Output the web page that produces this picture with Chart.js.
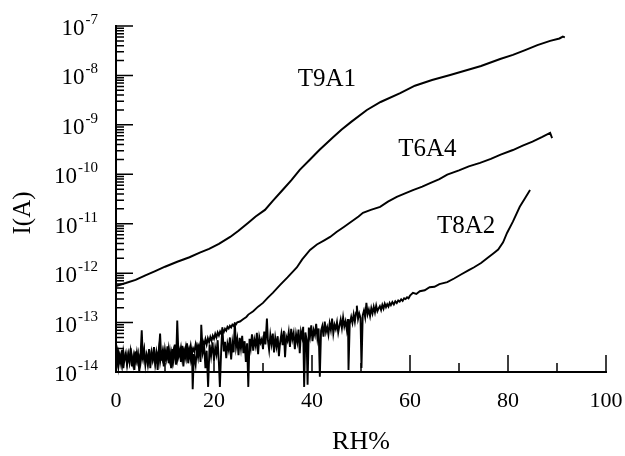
<!DOCTYPE html>
<html><head><meta charset="utf-8">
<script src="https://cdn.jsdelivr.net/npm/chart.js@4.4.1/dist/chart.umd.min.js"></script>
<style>html,body{margin:0;padding:0;background:#fff;}canvas{display:block;}</style>
</head><body>
<canvas id="c" width="625" height="456"></canvas>
<script>
// ---- tick labels ----
const xTickLabels = ['0', '20', '40', '60', '80', '100'];
const yDecades = [-14, -13, -12, -11, -10, -9, -8, -7];
const yMinorMantissas = [2, 3, 4, 5, 6, 7, 8, 9];
const xTitle = 'RH%';
const yTitle = 'I(A)';

// ---- series (x = RH %, y = current in A) ----
const seriesNames = ['T9A1', 'T6A4', 'T8A2'];

const t9a1 = [
  [0,5.5e-13],[2,6.3e-13],[4,7.3e-13],[6,9.0e-13],[8,1.1e-12],[10,1.35e-12],[12.5,1.7e-12],
  [15,2.1e-12],[17.1,2.6e-12],[19,3.1e-12],[21,3.9e-12],[23.3,5.4e-12],[25,7.2e-12],[27,1.05e-11],
  [28.5,1.4e-11],[30.4,1.9e-11],[32,2.9e-11],[34,4.8e-11],[35.8,7.6e-11],[37.5,1.23e-10],
  [39.5,1.95e-10],[41.5,3.1e-10],[44.3,5.6e-10],[46,8.0e-10],[48,1.15e-9],[51.2,2.0e-9],
  [54,2.9e-9],[58,4.4e-9],[61,6.2e-9],[64.5,8.1e-9],[68.2,1.02e-8],[71,1.23e-8],[74.5,1.55e-8],
  [78.4,2.15e-8],[81,2.6e-8],[83.5,3.25e-8],[86,4.1e-8],[88.6,5.0e-8],[90.5,5.6e-8],[91.2,6.1e-8],[91.6,5.9e-8]
];

const t6a4 = [
  [0,2.0e-14],[0.25,1.5e-14],[0.5,2.4e-14],[0.75,1.7e-14],[1,2.2e-14],[1.25,1.4e-14],[1.5,2.6e-14],[1.75,1.8e-14],
  [2,2.1e-14],[2.25,1.5e-14],[2.5,2.3e-14],[2.75,1.6e-14],[3,2.7e-14],[3.25,1.9e-14],[3.5,1.4e-14],[3.75,2.2e-14],
  [4,1.7e-14],[4.25,2.5e-14],[4.5,1.6e-14],[4.75,2.0e-14],[5,1.5e-14],[5.25,2.4e-14],[5.5,1.8e-14],[5.75,2.8e-14],
  [6,1.6e-14],[6.25,2.1e-14],[6.5,1.4e-14],[6.75,2.3e-14],[7,1.9e-14],[7.25,2.6e-14],[7.5,1.7e-14],[7.75,2.2e-14],
  [8,1.5e-14],[8.25,2.5e-14],[8.5,1.9e-14],[8.75,2.9e-14],[9,1.6e-14],[9.25,2.3e-14],[9.5,1.8e-14],[9.75,2.6e-14],
  [10,1.7e-14],[10.25,2.4e-14],[10.5,2.0e-14],[10.75,3.0e-14],[11,1.8e-14],[11.25,2.5e-14],[11.5,1.6e-14],[11.75,2.7e-14],
  [12,2.1e-14],[12.25,2.9e-14],[12.5,1.8e-14],[12.75,2.6e-14],[13,2.2e-14],[13.25,3.1e-14],[13.5,1.9e-14],[13.75,2.8e-14],
  [14,2.3e-14],[14.25,3.2e-14],[14.5,2.0e-14],[14.75,2.9e-14],[15,2.4e-14],[15.25,3.4e-14],[15.5,2.3e-14],[15.75,3.0e-14],
  [16,2.6e-14],[16.25,3.6e-14],[16.5,2.7e-14],[16.75,3.5e-14],[17,3.0e-14],[17.25,4.0e-14],[17.5,3.1e-14],[17.75,4.2e-14],
  [18,3.5e-14],[18.25,4.6e-14],[18.5,3.6e-14],[18.75,4.8e-14],[19,4.0e-14],[19.25,5.1e-14],[19.5,4.3e-14],[19.75,5.4e-14],
  [20,4.7e-14],[20.25,5.9e-14],[20.5,5.0e-14],[20.75,6.3e-14],[21,5.5e-14],[21.25,6.6e-14],[21.5,5.9e-14],[21.75,7.2e-14],
  [22,6.4e-14],[22.25,7.5e-14],[22.5,6.9e-14],[22.75,8.2e-14],[23,7.6e-14],[23.25,8.6e-14],[23.5,8.0e-14],[23.75,9.1e-14],
  [24,8.6e-14],[24.25,9.6e-14],[24.5,9.2e-14],[24.75,1.01e-13],[25.3,1.05e-13],[26,1.18e-13],[26.6,1.3e-13],[27,1.45e-13],
  [28,1.7e-13],[29,2.1e-13],[30,2.5e-13],[31,3.2e-13],[32,4.0e-13],[33.5,5.8e-13],[35,8.2e-13],[36.9,1.3e-12],
  [38,1.9e-12],[39.6,2.95e-12],[41,3.8e-12],[42.5,4.6e-12],[43.7,5.4e-12],[45,6.8e-12],[46.5,8.6e-12],[48,1.1e-11],
  [49.5,1.4e-11],[50.4,1.66e-11],[52,1.9e-11],[53.9,2.2e-11],[55.5,2.8e-11],[57.3,3.5e-11],[59,4.1e-11],[60.6,4.8e-11],
  [62.5,5.6e-11],[64.1,6.6e-11],[66,8.0e-11],[67.6,9.8e-11],[70,1.2e-10],[72,1.45e-10],[74.3,1.7e-10],[76.5,2.05e-10],
  [78.5,2.5e-10],[81,3.1e-10],[83,3.8e-10],[85,4.6e-10],[87,5.7e-10],[88.6,6.9e-10],[89.0,5.4e-10]
];

const t8a2 = [
  [0,1.7e-14],[0.25,2.5e-14],[0.5,1.3e-14],[0.75,2.1e-14],[1,1.5e-14],[1.25,2.8e-14],[1.5,1.2e-14],[1.75,1.9e-14],
  [2,2.4e-14],[2.25,1.4e-14],[2.5,2.2e-14],[2.75,1.6e-14],[3,3.0e-14],[3.25,1.3e-14],[3.5,2.0e-14],[3.75,1.1e-14],
  [4,2.6e-14],[4.25,1.7e-14],[4.5,2.3e-14],[4.75,1.0e-14],[5,2.1e-14],[5.25,7.0e-14],[5.5,1.8e-14],[5.75,2.7e-14],
  [6,1.4e-14],[6.25,2.2e-14],[6.5,1.6e-14],[6.75,2.9e-14],[7,1.2e-14],[7.25,2.4e-14],[7.5,1.9e-14],[7.75,3.2e-14],
  [8,1.5e-14],[8.25,2.3e-14],[8.5,1.1e-14],[8.75,2.6e-14],[9,6.0e-14],[9.25,1.7e-14],[9.5,2.5e-14],[9.75,1.3e-14],
  [10,2.8e-14],[10.25,1.9e-14],[10.5,3.3e-14],[10.75,1.5e-14],[11,2.4e-14],[11.25,1.2e-14],[11.5,2.9e-14],[11.75,1.8e-14],
  [12,3.6e-14],[12.25,1.4e-14],[12.5,1.1e-13],[12.75,2.1e-14],[13,2.7e-14],[13.25,1.6e-14],[13.5,3.4e-14],[13.75,1.3e-14],
  [14,2.5e-14],[14.25,1.9e-14],[14.5,3.8e-14],[14.75,1.5e-14],[15,2.6e-14],[15.25,1.8e-14],[15.5,3.1e-14],[15.65,4.5e-15],
  [15.9,2.3e-14],[16.25,1.4e-14],[16.5,2.9e-14],[16.75,2.0e-14],[17,3.5e-14],[17.25,1.6e-14],[17.4,9.0e-14],[17.7,2.4e-14],
  [18,3.2e-14],[18.25,1.2e-14],[18.5,2.7e-14],[18.8,5.0e-15],[19.1,3.6e-14],[19.4,2.1e-14],[19.7,4.0e-14],[20,1.7e-14],
  [20.25,3.1e-14],[20.5,2.3e-14],[20.75,4.4e-14],[21,1.5e-14],[21.2,5.0e-15],[21.5,3.4e-14],[21.7,8.0e-14],[22,2.6e-14],
  [22.25,4.1e-14],[22.5,1.9e-14],[22.75,3.7e-14],[23,2.8e-14],[23.25,5.0e-14],[23.5,1.8e-14],[23.75,3.9e-14],[24,2.5e-14],
  [24.25,1.0e-13],[24.5,3.2e-14],[24.75,4.6e-14],[25,2.2e-14],[25.25,4.9e-14],[25.5,3.0e-14],[25.75,5.4e-14],[26,2.4e-14],
  [26.25,4.2e-14],[26.5,1.6e-14],[26.75,3.8e-14],[27,5.0e-15],[27.25,4.7e-14],[27.5,3.1e-14],[27.75,5.8e-14],[28,2.7e-14],
  [28.25,4.5e-14],[28.5,3.4e-14],[28.75,6.2e-14],[29,2.3e-14],[29.25,5.1e-14],[29.5,3.9e-14],[29.75,4.6e-14],[30,2.9e-14],
  [30.25,6.6e-14],[30.5,3.6e-14],[30.8,1.2e-13],[31,4.4e-14],[31.25,2.8e-14],[31.5,5.6e-14],[31.75,3.7e-14],[32,6.0e-14],
  [32.25,2.5e-14],[32.5,4.9e-14],[32.75,3.3e-14],[33,5.3e-14],[33.25,2.1e-14],[33.5,4.0e-14],[33.75,5.9e-14],[34,3.5e-14],
  [34.25,6.8e-14],[34.5,2.0e-14],[34.75,5.2e-14],[35,4.3e-14],[35.25,6.4e-14],[35.5,3.2e-14],[35.75,7.5e-14],[36,4.6e-14],
  [36.25,6.1e-14],[36.5,2.9e-14],[36.75,5.8e-14],[37,4.1e-14],[37.25,7.2e-14],[37.5,2.4e-14],[37.75,6.5e-14],[38,5.0e-14],
  [38.2,8.2e-14],[38.4,5.0e-15],[38.65,6.3e-14],[38.9,4.5e-14],[39.1,5.5e-15],[39.35,7.9e-14],[39.6,5.3e-14],[39.85,8.8e-14],
  [40.1,4.2e-14],[40.35,7.0e-14],[40.6,5.6e-14],[40.85,9.4e-14],[41.1,4.9e-14],[41.35,7.6e-14],[41.6,8.0e-15],[41.85,6.9e-14],
  [42.1,8.5e-14],[42.35,5.2e-14],[42.6,1.05e-13],[42.85,6.4e-14],[43.1,8.0e-14],[43.35,5.7e-14],[43.6,9.6e-14],[43.85,7.1e-14],
  [44.1,1.2e-13],[44.35,6.0e-14],[44.6,9.0e-14],[44.85,7.4e-14],[45.1,1.02e-13],[45.35,6.3e-14],[45.6,8.7e-14],[45.85,1.15e-13],
  [46.1,7.8e-14],[46.35,1.28e-13],[46.6,8.4e-14],[46.85,1.06e-13],[47.1,7.2e-14],[47.35,1.18e-13],[47.45,1.1e-14],[47.7,9.3e-14],
  [48,1.3e-13],[48.25,9.9e-14],[48.5,1.46e-13],[48.75,1.04e-13],[49,1.6e-13],[49.15,2.2e-13],[49.4,1.18e-13],[49.65,1.52e-13],
  [49.9,1.25e-13],[50.1,1.2e-14],[50.35,1.4e-13],[50.6,1.75e-13],[50.85,1.29e-13],[51.1,2.5e-13],[51.35,1.48e-13],[51.6,1.82e-13],
  [51.85,1.36e-13],[52.1,1.95e-13],[52.35,1.53e-13],[52.6,2.08e-13],[52.85,1.61e-13],[53.1,2.2e-13],[53.35,1.7e-13],[53.6,1.94e-13],
  [53.85,2.15e-13],[54.1,1.8e-13],[54.35,2.28e-13],[54.6,1.92e-13],[54.85,2.4e-13],[55.1,2.05e-13],[55.35,2.35e-13],[55.6,2.1e-13],
  [55.85,2.5e-13],[56.1,2.25e-13],[56.4,2.6e-13],[56.7,2.32e-13],[57,2.7e-13],[57.3,2.48e-13],[57.6,2.8e-13],[57.9,2.65e-13],
  [58.2,2.95e-13],[58.5,2.75e-13],[58.8,3.1e-13],[59.1,2.98e-13],[59.4,3.25e-13],[59.7,3.1e-13],[60,3.5e-13],[60.6,4.0e-13],
  [61.3,3.8e-13],[62,4.3e-13],[63,4.5e-13],[64,5.2e-13],[65,5.3e-13],[66,6.0e-13],[67.6,6.6e-13],[69,7.8e-13],
  [70.5,9.5e-13],[72,1.15e-12],[73,1.3e-12],[74.5,1.6e-12],[76,2.1e-12],[77,2.5e-12],[78,3.0e-12],[79,4.2e-12],
  [79.8,6.5e-12],[81,1.1e-11],[82.4,2.2e-11],[83.5,3.3e-11],[84.5,4.8e-11]
];

// curve name annotations, anchored in data coordinates [x, y]
const labelAnchors = [[37.1, 6.1e-9], [57.6, 2.3e-10], [65.5, 6.4e-12]];

const FONT = '"Liberation Serif", "Times New Roman", Times, serif';
const toXY = arr => arr.map(p => ({x: p[0], y: p[1]}));

const axesPlugin = {
  id: 'axesPlugin',
  afterDraw(chart) {
    const ctx = chart.ctx;
    const xs = chart.scales.x, ys = chart.scales.y;
    const {left, right, top, bottom} = chart.chartArea;
    ctx.save();
    ctx.strokeStyle = '#000';
    ctx.fillStyle = '#000';
    ctx.lineWidth = 2;
    ctx.beginPath();
    ctx.moveTo(left, top - 1);
    ctx.lineTo(left, bottom);
    ctx.lineTo(right + 1, bottom);
    ctx.stroke();
    ctx.lineWidth = 1.5;
    ctx.beginPath();
    yDecades.forEach((d, i) => {
      const py = ys.getPixelForValue(Math.pow(10, d));
      ctx.moveTo(left, py); ctx.lineTo(left + 17, py);
      if (i < yDecades.length - 1) {
        yMinorMantissas.forEach(m => {
          const pm = ys.getPixelForValue(m * Math.pow(10, d));
          ctx.moveTo(left, pm); ctx.lineTo(left + 8, pm);
        });
      }
    });
    xs.ticks.forEach(t => {
      const px = xs.getPixelForValue(t.value);
      const major = xTickLabels.includes(String(t.value));
      ctx.moveTo(px, bottom); ctx.lineTo(px, bottom - (major ? 17 : 9));
    });
    ctx.stroke();
    const rightEdge = left - 18;
    yDecades.forEach(d => {
      const py = ys.getPixelForValue(Math.pow(10, d));
      const exp = String(d);
      ctx.font = '15px ' + FONT;
      ctx.textAlign = 'right';
      ctx.textBaseline = 'alphabetic';
      const ew = ctx.measureText(exp).width;
      ctx.fillText(exp, rightEdge, py - 2);
      ctx.font = '23px ' + FONT;
      ctx.fillText('10', rightEdge - ew - 1, py + 9);
    });
    ctx.save();
    ctx.translate(23, 213);
    ctx.rotate(-Math.PI / 2);
    ctx.font = '25px ' + FONT;
    ctx.textAlign = 'center';
    ctx.textBaseline = 'middle';
    ctx.fillText(yTitle, 0, 0);
    ctx.restore();
    ctx.font = '25px ' + FONT;
    ctx.textAlign = 'left';
    ctx.textBaseline = 'alphabetic';
    seriesNames.forEach((n, i) => {
      const a = labelAnchors[i];
      ctx.fillText(n, xs.getPixelForValue(a[0]), ys.getPixelForValue(a[1]));
    });
    ctx.restore();
  }
};

const ds = (name, arr, w) => ({
  label: name, data: toXY(arr), borderColor: '#000', backgroundColor: '#000',
  borderWidth: w, pointRadius: 0, tension: 0, clip: false, fill: false
});

new Chart(document.getElementById('c'), {
  type: 'line',
  data: {
    datasets: [
      ds(seriesNames[0], t9a1, 2),
      ds(seriesNames[1], t6a4, 1.9),
      ds(seriesNames[2], t8a2, 1.9)
    ]
  },
  options: {
    responsive: false,
    animation: false,
    devicePixelRatio: 1,
    layout: {padding: {left: 0, right: 19, top: 26, bottom: 0}},
    plugins: {legend: {display: false}, tooltip: {enabled: false}},
    scales: {
      x: {
        type: 'linear', min: 0, max: 100,
        grid: {display: false, drawTicks: false},
        border: {display: false},
        ticks: {
          stepSize: 10, autoSkip: false, maxRotation: 0, padding: 16, color: '#000',
          font: {family: FONT, size: 22},
          callback: v => xTickLabels.includes(String(v)) ? String(v) : ''
        },
        title: {display: true, text: xTitle, color: '#000', font: {family: FONT, size: 26, lineHeight: 1.1}, padding: {top: 0, bottom: 0}},
        afterFit: s => { s.height = 84; s.paddingLeft = 0; s.paddingRight = 0; }
      },
      y: {
        type: 'logarithmic', min: 1e-14, max: 1e-7,
        grid: {display: false, drawTicks: false},
        border: {display: false},
        ticks: {display: false},
        afterFit: s => { s.width = 116; s.paddingTop = 0; s.paddingBottom = 0; }
      }
    }
  },
  plugins: [axesPlugin]
});
</script>
</body></html>
